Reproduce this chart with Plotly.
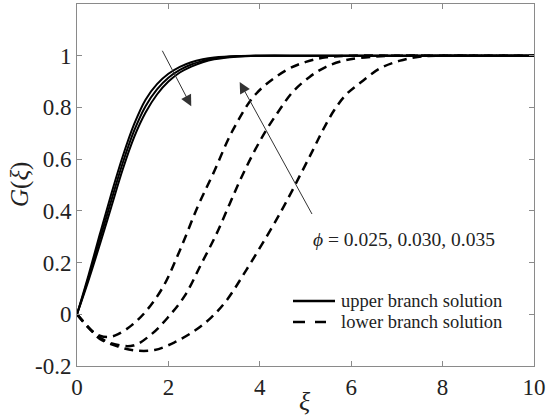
import plotly.graph_objects as go

# Upper branch (phi = 0.025, 0.030, 0.035)
xi_upper = [0, 0.25, 0.5, 0.75, 1.0, 1.25, 1.5, 1.75, 2.0, 2.25, 2.5, 2.75, 3.0, 3.5, 4.0, 5, 6, 7, 8, 9, 10]
G_upper_025 = [0, 0.15, 0.31, 0.465, 0.61, 0.735, 0.83, 0.89, 0.93, 0.957, 0.975, 0.986, 0.993, 0.999, 1, 1, 1, 1, 1, 1, 1]
G_upper_030 = [0, 0.14, 0.29, 0.44, 0.585, 0.71, 0.805, 0.87, 0.915, 0.945, 0.966, 0.98, 0.99, 0.998, 1, 1, 1, 1, 1, 1, 1]
G_upper_035 = [0, 0.13, 0.27, 0.415, 0.56, 0.685, 0.78, 0.85, 0.90, 0.935, 0.958, 0.975, 0.986, 0.996, 1, 1, 1, 1, 1, 1, 1]

# Lower branch
xi_lower_025 = [0, 0.3, 0.5, 0.7, 0.9, 1.2, 1.52, 1.88, 2.25, 2.65, 2.98, 3.41, 3.92, 4.58, 5.01, 5.45, 6, 7, 8, 9, 10]
G_lower_025 = [0, -0.06, -0.083, -0.088, -0.077, -0.042, 0.014, 0.105, 0.247, 0.42, 0.544, 0.712, 0.853, 0.944, 0.976, 0.994, 1, 1, 1, 1, 1]

xi_lower_030 = [0, 0.3, 0.5, 0.76, 1.23, 1.63, 1.99, 2.36, 2.72, 3.05, 3.34, 3.56, 3.85, 4.14, 4.43, 4.72, 5.09, 5.45, 5.89, 6.5, 7, 8, 9, 10]
G_lower_030 = [0, -0.06, -0.09, -0.113, -0.121, -0.077, -0.012, 0.072, 0.195, 0.31, 0.427, 0.515, 0.62, 0.712, 0.79, 0.86, 0.918, 0.957, 0.983, 0.996, 1, 1, 1, 1]

xi_lower_035 = [0, 0.3, 0.5, 0.9, 1.27, 1.7, 2.14, 2.58, 2.94, 3.27, 3.7, 4.28, 4.58, 4.9, 5.16, 5.38, 5.63, 5.89, 6.22, 6.62, 7.05, 7.49, 8, 9, 10]
G_lower_035 = [0, -0.06, -0.095, -0.125, -0.14, -0.138, -0.108, -0.063, -0.012, 0.053, 0.17, 0.34, 0.435, 0.544, 0.634, 0.712, 0.79, 0.85, 0.898, 0.95, 0.98, 0.996, 1, 1, 1]

x_ticks = [0, 2, 4, 6, 8, 10]
y_ticks = [-0.2, 0, 0.2, 0.4, 0.6, 0.8, 1]
y_tick_labels = ["-0.2", "0", "0.2", "0.4", "0.6", "0.8", "1"]

legend_names = ["upper branch solution", "lower branch solution"]
phi_label = "<i>ϕ</i> = 0.025, 0.030, 0.035"

FONT = "Liberation Serif"
SOLID = dict(color="black", width=2)
DASHED = dict(color="black", width=2.5, dash="9px,6px")

fig = go.Figure()

uppers = [G_upper_025, G_upper_030, G_upper_035]
for g in uppers:
    fig.add_trace(go.Scatter(
        x=xi_upper, y=g, mode="lines",
        line=dict(**SOLID, shape="spline", smoothing=1),
        name=legend_names[0], showlegend=False,
    ))

lowers = [(xi_lower_025, G_lower_025), (xi_lower_030, G_lower_030), (xi_lower_035, G_lower_035)]
for x, g in lowers:
    fig.add_trace(go.Scatter(
        x=x, y=g, mode="lines",
        line=dict(**DASHED, shape="spline", smoothing=1),
        name=legend_names[1], showlegend=False,
    ))

axis_common = dict(
    showline=True, linecolor="#8a8a8a", linewidth=1, mirror="ticks",
    ticks="inside", ticklen=5, tickcolor="#8a8a8a", tickwidth=1,
    showgrid=False, zeroline=False,
    tickfont=dict(family=FONT, size=23, color="#222"),
)

fig.update_xaxes(range=[0, 10], tickvals=x_ticks, **axis_common)
fig.update_yaxes(range=[-0.2, 1.2], tickvals=y_ticks, ticktext=y_tick_labels, **axis_common)

# plot area in pixels: x 77..534, y 4..366
def px(xp):
    return (xp - 77) / 457

def py(yp):
    return (366 - yp) / 362

annotations = [
    # arrows
    dict(x=2.50, y=0.805, ax=1.85, ay=1.025, xref="x", yref="y", axref="x", ayref="y",
         text="", showarrow=True, arrowhead=2, arrowsize=2.2, arrowwidth=1, arrowcolor="#333"),
    dict(x=3.56, y=0.898, ax=5.16, ay=0.382, xref="x", yref="y", axref="x", ayref="y",
         text="", showarrow=True, arrowhead=2, arrowsize=2.2, arrowwidth=1, arrowcolor="#333"),
    dict(x=7.15, y=0.29, xref="x", yref="y", text=phi_label, showarrow=False,
         font=dict(family=FONT, size=19.5, color="#222")),
    # axis titles
    dict(x=px(305), y=py(401), xref="paper", yref="paper", xanchor="center", yanchor="middle",
         text="<i>ξ</i>", showarrow=False, font=dict(family=FONT, size=26, color="#222")),
    dict(x=px(20), y=py(185), xref="paper", yref="paper", xanchor="center", yanchor="middle",
         text="<i>G</i>(<i>ξ</i>)", textangle=-90, showarrow=False,
         font=dict(family=FONT, size=25, color="#222")),
    # legend texts
    dict(x=px(339), y=py(301), xref="paper", yref="paper", xanchor="left", yanchor="middle",
         text=legend_names[0], showarrow=False, font=dict(family=FONT, size=18.5, color="#222")),
    dict(x=px(339), y=py(322), xref="paper", yref="paper", xanchor="left", yanchor="middle",
         text=legend_names[1], showarrow=False, font=dict(family=FONT, size=18.5, color="#222")),
]

shapes = [
    dict(type="line", xref="paper", yref="paper", x0=px(293), x1=px(335), y0=py(301), y1=py(301),
         line=dict(color="black", width=2.5)),
    dict(type="line", xref="paper", yref="paper", x0=px(293), x1=px(326), y0=py(322), y1=py(322),
         line=dict(color="black", width=2.5, dash="12px,10px")),
]

fig.update_layout(
    width=550, height=417,
    margin=dict(l=77, r=16, t=4, b=51),
    paper_bgcolor="white", plot_bgcolor="white",
    annotations=annotations,
    shapes=shapes,
    showlegend=False,
)

fig.write_html("out.html", config={"displayModeBar": False},
               post_script="document.body.style.margin='0';")
